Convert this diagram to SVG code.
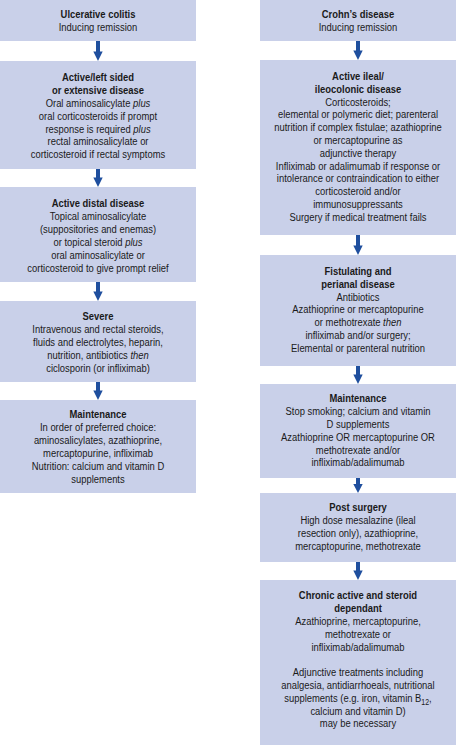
<svg xmlns="http://www.w3.org/2000/svg" width="456" height="750" viewBox="0 0 456 750">
<style>
.box{fill:#c9d0e9}
text{font-family:"Liberation Sans",Arial,sans-serif;font-size:11.5px;fill:#1a1a1a;text-anchor:middle}
.b{font-weight:bold}
.i{font-style:italic}
.arr{fill:#1f4f9e}
</style>
<rect width="456" height="750" fill="#fff"/>

<g id="uc-title">
<rect class="box" x="0" y="0" width="196" height="41"/>
<g transform="translate(98 0) scale(0.82 1)">
<text x="0" y="18.5" class="b">Ulcerative colitis</text>
<text x="0" y="31">Inducing remission</text>
</g>
</g>

<g id="uc-active">
<rect class="box" x="0" y="61" width="196" height="108"/>
<g transform="translate(98 0) scale(0.82 1)">
<text x="0" y="81" class="b">Active/left sided</text>
<text x="0" y="93.9" class="b">or extensive disease</text>
<text x="0" y="106.8">Oral aminosalicylate <tspan class="i">plus</tspan></text>
<text x="0" y="119.7">oral corticosteroids if prompt</text>
<text x="0" y="132.6">response is required <tspan class="i">plus</tspan></text>
<text x="0" y="145.5">rectal aminosalicylate or</text>
<text x="0" y="158.4">corticosteroid if rectal symptoms</text>
</g>
</g>

<g id="uc-distal">
<rect class="box" x="0" y="187" width="196" height="95"/>
<g transform="translate(98 0) scale(0.82 1)">
<text x="0" y="207.5" class="b">Active distal disease</text>
<text x="0" y="220.3">Topical aminosalicylate</text>
<text x="0" y="233.2">(suppositories and enemas)</text>
<text x="0" y="246.1">or topical steroid <tspan class="i">plus</tspan></text>
<text x="0" y="259">oral aminosalicylate or</text>
<text x="0" y="271.9">corticosteroid to give prompt relief</text>
</g>
</g>

<g id="uc-severe">
<rect class="box" x="0" y="301" width="196" height="81"/>
<g transform="translate(98 0) scale(0.82 1)">
<text x="0" y="320" class="b">Severe</text>
<text x="0" y="333">Intravenous and rectal steroids,</text>
<text x="0" y="346">fluids and electrolytes, heparin,</text>
<text x="0" y="359">nutrition, antibiotics <tspan class="i">then</tspan></text>
<text x="0" y="372">ciclosporin (or infliximab)</text>
</g>
</g>

<g id="uc-maint">
<rect class="box" x="0" y="400" width="196" height="93"/>
<g transform="translate(98 0) scale(0.82 1)">
<text x="0" y="418.5" class="b">Maintenance</text>
<text x="0" y="431.5">In order of preferred choice:</text>
<text x="0" y="444.5">aminosalicylates, azathioprine,</text>
<text x="0" y="457.5">mercaptopurine, infliximab</text>
<text x="0" y="470.5">Nutrition: calcium and vitamin D</text>
<text x="0" y="483.5">supplements</text>
</g>
</g>

<g id="cd-title">
<rect class="box" x="260" y="0" width="196" height="41"/>
<g transform="translate(358 0) scale(0.82 1)">
<text x="0" y="18.5" class="b">Crohn’s disease</text>
<text x="0" y="31">Inducing remission</text>
</g>
</g>

<g id="cd-active">
<rect class="box" x="260" y="60" width="196" height="175"/>
<g transform="translate(358 0) scale(0.82 1)">
<text x="0" y="80" class="b">Active ileal/</text>
<text x="0" y="92.8" class="b">ileocolonic disease</text>
<text x="0" y="105.6">Corticosteroids;</text>
<text x="0" y="118.4">elemental or polymeric diet; parenteral</text>
<text x="0" y="131.2">nutrition if complex fistulae; azathioprine</text>
<text x="0" y="144">or mercaptopurine as</text>
<text x="0" y="156.8">adjunctive therapy</text>
<text x="0" y="169.6">Infliximab or adalimumab if response or</text>
<text x="0" y="182.4">intolerance or contraindication to either</text>
<text x="0" y="195.2">corticosteroid and/or</text>
<text x="0" y="208">immunosuppressants</text>
<text x="0" y="220.8">Surgery if medical treatment fails</text>
</g>
</g>

<g id="cd-fistula">
<rect class="box" x="260" y="255" width="196" height="111"/>
<g transform="translate(358 0) scale(0.82 1)">
<text x="0" y="275" class="b">Fistulating and</text>
<text x="0" y="287.8" class="b">perianal disease</text>
<text x="0" y="300.6">Antibiotics</text>
<text x="0" y="313.4">Azathioprine or mercaptopurine</text>
<text x="0" y="326.2">or methotrexate <tspan class="i">then</tspan></text>
<text x="0" y="339">infliximab and/or surgery;</text>
<text x="0" y="351.8">Elemental or parenteral nutrition</text>
</g>
</g>

<g id="cd-maint">
<rect class="box" x="260" y="384" width="196" height="94"/>
<g transform="translate(358 0) scale(0.82 1)">
<text x="0" y="402.5" class="b">Maintenance</text>
<text x="0" y="415.3">Stop smoking; calcium and vitamin</text>
<text x="0" y="428.1">D supplements</text>
<text x="0" y="440.9">Azathioprine OR mercaptopurine OR</text>
<text x="0" y="453.7">methotrexate and/or</text>
<text x="0" y="466.5">infliximab/adalimumab</text>
</g>
</g>

<g id="cd-post">
<rect class="box" x="260" y="493" width="196" height="69"/>
<g transform="translate(358 0) scale(0.82 1)">
<text x="0" y="511.5" class="b">Post surgery</text>
<text x="0" y="524.3">High dose mesalazine (ileal</text>
<text x="0" y="537.1">resection only), azathioprine,</text>
<text x="0" y="549.9">mercaptopurine, methotrexate</text>
</g>
</g>

<g id="cd-chronic">
<rect class="box" x="260" y="580" width="196" height="165"/>
<g transform="translate(358 0) scale(0.82 1)">
<text x="0" y="599.5" class="b">Chronic active and steroid</text>
<text x="0" y="612.3" class="b">dependant</text>
<text x="0" y="625.1">Azathioprine, mercaptopurine,</text>
<text x="0" y="637.9">methotrexate or</text>
<text x="0" y="650.7">infliximab/adalimumab</text>
<text x="0" y="676.3">Adjunctive treatments including</text>
<text x="0" y="689.1">analgesia, antidiarrhoeals, nutritional</text>
<text x="0" y="701.9">supplements (e.g. iron, vitamin B<tspan dy="3" font-size="8.5">12</tspan><tspan dy="-3">,</tspan></text>
<text x="0" y="714.7">calcium and vitamin D)</text>
<text x="0" y="727.5">may be necessary</text>
</g>
</g>

<g id="connectors" class="arr">
<path d="M96,41 H100 V51.5 H102.7 L98,61 L93.3,51.5 H96 Z"/>
<path d="M96,169 H100 V177.5 H102.7 L98,187 L93.3,177.5 H96 Z"/>
<path d="M96,282 H100 V291.5 H102.7 L98,301 L93.3,291.5 H96 Z"/>
<path d="M96,382 H100 V390.5 H102.7 L98,400 L93.3,390.5 H96 Z"/>
<path d="M356,41 H360 V50.5 H362.7 L358,60 L353.3,50.5 H356 Z"/>
<path d="M356,235 H360 V245.5 H362.7 L358,255 L353.3,245.5 H356 Z"/>
<path d="M356,366 H360 V374.5 H362.7 L358,384 L353.3,374.5 H356 Z"/>
<path d="M356,478 H360 V484 H362.7 L358,493 L353.3,484 H356 Z"/>
<path d="M356,562 H360 V570.5 H362.7 L358,580 L353.3,570.5 H356 Z"/>
</g>
</svg>
